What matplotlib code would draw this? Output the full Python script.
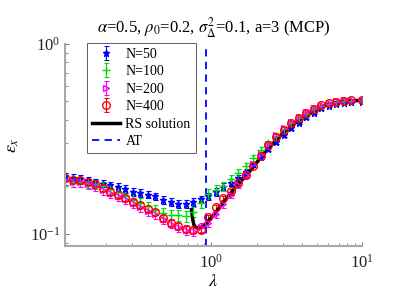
import matplotlib
matplotlib.use("Agg")
import matplotlib.pyplot as plt
from matplotlib.ticker import LogLocator, NullFormatter

plt.rcParams['font.family'] = ['Liberation Serif', 'DejaVu Serif']
plt.rcParams['mathtext.fontset'] = 'stix'

lam = [0.1072, 0.1203, 0.1350, 0.1514, 0.1699, 0.1906, 0.2139, 0.2400, 0.2692, 0.3021,
       0.3389, 0.3803, 0.4267, 0.4787, 0.5371, 0.6026, 0.6761, 0.7586, 0.8511, 0.9550,
       1.0715, 1.2022, 1.3489, 1.5135, 1.6981, 1.9055, 2.1380, 2.3988, 2.6915, 3.0200,
       3.3884, 3.8019, 4.2658, 4.7863, 5.3703, 6.0256, 6.7608, 7.5858, 8.5114, 10.0]

n50 = [0.201, 0.197, 0.195, 0.191, 0.187, 0.184, 0.180, 0.177, 0.172, 0.167,
       0.164, 0.161, 0.158, 0.151, 0.147, 0.144, 0.144, 0.147, 0.152, 0.158,
       0.167, 0.177, 0.186, 0.197, 0.212, 0.232, 0.255, 0.280, 0.305, 0.333,
       0.360, 0.385, 0.410, 0.435, 0.458, 0.472, 0.484, 0.491, 0.494, 0.496]
n100 = [0.190, 0.188, 0.187, 0.185, 0.182, 0.178, 0.172, 0.166, 0.158, 0.151,
        0.146, 0.140, 0.134, 0.129, 0.126, 0.125, 0.124, 0.130, 0.145, 0.162,
        0.170, 0.178, 0.195, 0.209, 0.227, 0.250, 0.275, 0.300, 0.328, 0.355,
        0.382, 0.406, 0.429, 0.452, 0.472, 0.484, 0.494, 0.500, 0.503, 0.504]
n200 = [0.192, 0.188, 0.187, 0.183, 0.179, 0.171, 0.164, 0.158, 0.152, 0.145,
        0.139, 0.132, 0.127, 0.119, 0.113, 0.108, 0.105, 0.104, 0.108, 0.114,
        0.127, 0.143, 0.160, 0.180, 0.203, 0.232, 0.264, 0.298, 0.330, 0.360,
        0.388, 0.413, 0.437, 0.459, 0.478, 0.490, 0.498, 0.504, 0.507, 0.509]
n400 = [0.197, 0.193, 0.191, 0.187, 0.184, 0.175, 0.167, 0.161, 0.155, 0.148,
        0.142, 0.135, 0.130, 0.121, 0.114, 0.110, 0.106, 0.105, 0.105, 0.122,
        0.138, 0.155, 0.168, 0.185, 0.203, 0.228, 0.258, 0.292, 0.325, 0.354,
        0.382, 0.407, 0.432, 0.455, 0.475, 0.487, 0.496, 0.503, 0.506, 0.508]

err50 = [0.009, 0.009, 0.009, 0.009, 0.008, 0.008, 0.008, 0.008, 0.008, 0.008,
         0.008, 0.007, 0.007, 0.007, 0.007, 0.007, 0.007, 0.007, 0.007, 0.007,
         0.008, 0.008, 0.008, 0.008, 0.008, 0.008, 0.008, 0.008, 0.008, 0.008,
         0.008, 0.008, 0.008, 0.008, 0.008, 0.008, 0.008, 0.008, 0.008, 0.008]
err100 = [0.011, 0.011, 0.011, 0.010, 0.010, 0.010, 0.009, 0.009, 0.009, 0.009,
          0.008, 0.008, 0.008, 0.008, 0.008, 0.008, 0.008, 0.008, 0.009, 0.010,
          0.010, 0.010, 0.010, 0.010, 0.010, 0.010, 0.010, 0.009, 0.009, 0.009,
          0.008, 0.008, 0.007, 0.007, 0.007, 0.006, 0.006, 0.006, 0.006, 0.006]
err200 = [0.012, 0.012, 0.011, 0.011, 0.011, 0.010, 0.010, 0.009, 0.009, 0.008,
          0.008, 0.008, 0.007, 0.007, 0.006, 0.006, 0.006, 0.006, 0.006, 0.006,
          0.006, 0.006, 0.006, 0.006, 0.006, 0.006, 0.006, 0.006, 0.006, 0.006,
          0.006, 0.005, 0.005, 0.005, 0.005, 0.005, 0.005, 0.005, 0.005, 0.005]
err400 = [0.007, 0.007, 0.007, 0.007, 0.007, 0.006, 0.006, 0.006, 0.006, 0.006,
          0.005, 0.005, 0.005, 0.005, 0.004, 0.004, 0.004, 0.004, 0.004, 0.004,
          0.004, 0.004, 0.004, 0.004, 0.004, 0.004, 0.004, 0.004, 0.004, 0.004,
          0.004, 0.004, 0.004, 0.004, 0.004, 0.004, 0.004, 0.004, 0.004, 0.004]

rs_lam = [0.740, 0.754, 0.768, 0.790, 0.820, 0.858, 0.912, 1.015, 1.147, 1.399,
          1.868, 2.35, 2.996, 3.88, 5.52, 7.49, 10.0]
rs_val = [0.134, 0.119, 0.1116, 0.108, 0.1072, 0.108, 0.1116, 0.123, 0.139, 0.170,
          0.221, 0.278, 0.340, 0.401, 0.470, 0.499, 0.505]

at_lam = 0.922

fig = plt.figure(figsize=(3.99, 2.99), dpi=100)
ax = fig.add_axes([0.163, 0.176, 0.744, 0.677])

kw = dict(capsize=1.8, elinewidth=0.8, capthick=0.8, linestyle='none')
h1 = ax.errorbar(lam, n50, yerr=err50, color='#0000ff', marker='*', markersize=5,
                 label='N=50', **kw)
h2 = ax.errorbar(lam, n100, yerr=err100, color='#00dd00', marker='+', markersize=6,
                 label='N=100', **kw)
h3 = ax.errorbar(lam, n200, yerr=err200, color='#ff00ff', marker='>', markersize=5,
                 markerfacecolor='none', label='N=200', **kw)
h4 = ax.errorbar(lam, n400, yerr=err400, color='#ff0000', marker='o', markersize=5.5,
                 markerfacecolor='none', label='N=400', **kw)
h5, = ax.plot(rs_lam, rs_val, color='black', lw=2.5, label='RS solution')
h6 = ax.axvline(at_lam, color='#0000ff', ls='--', lw=1.3, dashes=(4, 3), label='AT')

ax.set_xscale('log')
ax.set_yscale('log')
ax.set_xlim(0.1072, 10.0)
ax.set_ylim(0.0859, 1.0)

ax.xaxis.set_major_locator(LogLocator(base=10, numticks=10))
ax.xaxis.set_minor_locator(LogLocator(base=10, subs=range(2, 10), numticks=10))
ax.yaxis.set_minor_locator(LogLocator(base=10, subs=range(2, 10), numticks=10))
ax.xaxis.set_minor_formatter(NullFormatter())
ax.yaxis.set_minor_formatter(NullFormatter())

grey = '#a8a8a8'
for s in ['top', 'right']:
    ax.spines[s].set_visible(False)
for s in ['left', 'bottom']:
    ax.spines[s].set_color(grey)
    ax.spines[s].set_linewidth(1.5)
ax.tick_params(which='both', direction='in', color='#606060', labelsize=12,
               labelcolor='#222222')
ax.tick_params(which='major', length=3, width=0.6)
ax.tick_params(which='minor', length=2, width=0.5)
ax.tick_params(axis='x', pad=5)

ax.set_xlabel(r'$\lambda$', fontsize=13, labelpad=1)
ax.set_ylabel(r'$\epsilon_x$', fontsize=13, labelpad=6)
ax.set_title(r'$\alpha$=0.5, $\rho_0$=0.2, $\sigma^2_\Delta$=0.1, a=3 (MCP)',
             fontsize=12, pad=8)

leg = ax.legend([h1, h2, h3, h4, h5, h6],
                ['N=50', 'N=100', 'N=200', 'N=400', 'RS solution', 'AT'],
                loc='upper left', bbox_to_anchor=(0.075, 1.005), fontsize=10,
                frameon=True, fancybox=False, edgecolor='#333333',
                handlelength=2.0, handletextpad=0.4, borderpad=0.35,
                labelspacing=0.32, borderaxespad=0.0)
leg.get_frame().set_linewidth(0.7)

fig.savefig('out.png', dpi=100)
